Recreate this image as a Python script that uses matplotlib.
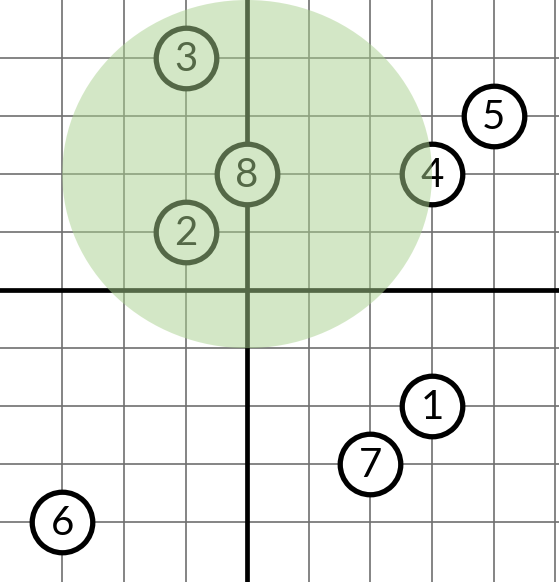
import matplotlib
matplotlib.use('Agg')
import matplotlib.pyplot as plt
from matplotlib.patches import Ellipse
import numpy as np

# numbered points
labels = ['1', '2', '3', '4', '5', '6', '7', '8']
xs = [3, -1, -1, 3, 4, -3, 2, 0]
ys = [-2, 1, 4, 2, 3, -4, -3, 2]

# highlighted region
circle_center = (0, 2)
circle_radius = 3

grid_x = np.arange(-3, 6)
grid_y = np.arange(-4, 5)

fig = plt.figure(figsize=(5.59, 5.82), dpi=100)
ax = fig.add_axes([0, 0, 1, 1])
ax.set_xlim(-4.01, 5.06)
ax.set_ylim(-5.03, 5.0)
ax.axis('off')

for gx in grid_x:
    if gx != 0:
        ax.axvline(gx, color='#6f6f6f', linewidth=1.2, zorder=1)
for gy in grid_y:
    if gy != 0:
        ax.axhline(gy, color='#6f6f6f', linewidth=1.2, zorder=1)
ax.axvline(0, color='black', linewidth=3.4, zorder=2)
ax.axhline(0, color='black', linewidth=3.4, zorder=2)

ax.scatter(xs, ys, s=1900, facecolor='white', edgecolor='black',
           linewidth=3.8, zorder=3)
for lab, x, y in zip(labels, xs, ys):
    ax.text(x, y - 0.02, lab, ha='center', va='center', fontsize=29,
            family='Lato', color='black', zorder=4)

ax.add_patch(Ellipse(circle_center, 2 * circle_radius, 2 * circle_radius,
                     facecolor='#a9d18e', edgecolor='none', alpha=0.5, zorder=5))

fig.savefig('out.png', dpi=100)
